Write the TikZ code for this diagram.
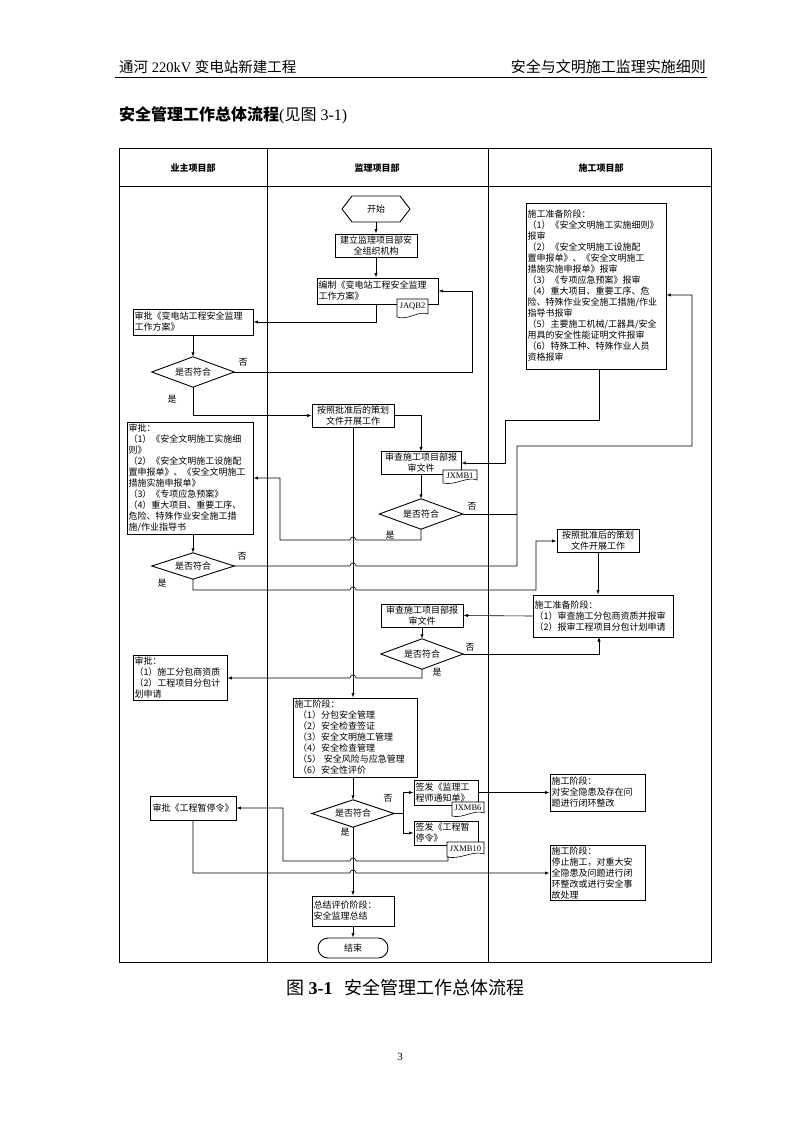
\documentclass[tikz,border=0pt]{standalone}
\usepackage{fontspec}
\setmainfont{Liberation Serif}
\newfontfamily\cjk{Noto Sans CJK SC}
\usetikzlibrary{arrows.meta,calc}
\newcommand\dg{\cjk\fontsize{9}{11}\selectfont}
\newcommand\docfont{\rmfamily\fontsize{8.5}{9}\selectfont}
\begin{document}
\begin{tikzpicture}[x=1pt,y=-1pt,
  frame/.style={line width=0.9pt},
  box/.style={draw, line width=0.9pt, fill=white, font=\dg, inner sep=1.5pt, align=center},
  lbox/.style={box, align=left},
  conn/.style={line width=0.6pt},
  arr/.style={line width=0.6pt, -{Latex[length=4.5pt,width=3.2pt]}},
  lbl/.style={font=\dg, inner sep=0pt},
  dnode/.style={font=\dg, inner sep=0pt},
  dshape/.style={line width=0.9pt, fill=white},
  docs/.style={line width=0.6pt, fill=white},
  doclbl/.style={font=\docfont, inner sep=0pt},
  lanehead/.style={font=\cjk\bfseries\fontsize{9}{11}\selectfont, inner sep=0pt}]
\useasboundingbox (0,0) rectangle (800,1132);
\fill[white] (0,0) rectangle (800,1132);

% page header
\node[anchor=west, inner sep=0pt] (hl) at (119,67) {\fontsize{14.5}{17}\selectfont\cjk 通河\rmfamily\ 220kV \cjk 变电站新建工程};
\node[anchor=east, inner sep=0pt] (hr) at (706,67) {\fontsize{15}{17}\selectfont\cjk 安全与文明施工监理实施细则};
\draw[line width=1pt] (115,77) -- (707,77);
\node[anchor=west, inner sep=0pt] (title) at (119,115) {\fontsize{16}{18}\selectfont\cjk\bfseries 安全管理工作总体流程\mdseries\rmfamily(\cjk 见图\rmfamily\ 3-1)};

% frame
\draw[frame] (119,148) rectangle (711,962);
\draw[frame] (119,186) -- (711,186);
\draw[frame] (267,148) -- (267,962);
\draw[frame] (488,148) -- (488,962);
\node[lanehead] (h1) at (193,168) {业主项目部};
\node[lanehead] (h2) at (377,168) {监理项目部};
\node[lanehead] (h3) at (601,168) {施工项目部};

% start
\draw[dshape] (342,209) -- (352,196) -- (400,196) -- (410,209) -- (400,222) -- (352,222) -- cycle;
\node[dnode, minimum width=68pt, minimum height=26pt] (start) at (376,209) {开始};

% boxes
\node[box, minimum width=82pt, minimum height=23pt] (b1) at (376,245.5) {建立监理项目部安\\全组织机构};
\node[lbox, text width=118pt, minimum height=26pt] (b2) at (377.5,291) {编制《变电站工程安全监理\\工作方案》};
\node[lbox, text width=117pt, minimum height=26pt] (a1) at (193,322) {审批《变电站工程安全监理\\工作方案》};
\node[box, minimum width=82pt, minimum height=23pt] (b3) at (353,415.5) {按照批准后的策划\\文件开展工作};
\node[box, minimum width=80pt, minimum height=22pt] (b4) at (421,463) {审查施工项目部报\\审文件};
\node[lbox, text width=123pt, minimum height=112pt] (a2) at (190,478) {审批：\\（1）《安全文明施工实施细\\则》\\（2）《安全文明施工设施配\\置申报单》、《安全文明施工\\措施实施申报单》\\（3）《专项应急预案》\\（4）重大项目、重要工序、\\危险、特殊作业安全施工措\\施/作业指导书};
\node[lbox, text width=137pt, minimum height=166pt] (c1) at (596,286) {施工准备阶段：\\（1）《安全文明施工实施细则》\\报审\\（2）《安全文明施工设施配\\置申报单》、《安全文明施工\\措施实施申报单》报审\\（3）《专项应急预案》报审\\（4）重大项目、重要工序、危\\险、特殊作业安全施工措施/作业\\指导书报审\\（5）主要施工机械/工器具/安全\\用具的安全性能证明文件报审\\（6）特殊工种、特殊作业人员\\资格报审};
\node[box, minimum width=82pt, minimum height=22pt] (c2) at (598,541) {按照批准后的策划\\文件开展工作};
\node[lbox, text width=137pt, minimum height=42pt] (c3) at (603,616) {施工准备阶段：\\（1）审查施工分包商资质并报审\\（2）报审工程项目分包计划申请};
\node[box, minimum width=82pt, minimum height=23pt] (b5) at (422,615.5) {审查施工项目部报\\审文件};
\node[lbox, text width=91pt, minimum height=44pt] (a3) at (180,678) {审批：\\（1）施工分包商资质\\（2）工程项目分包计\\划申请};
\node[lbox, text width=121pt, minimum height=79pt] (b6) at (355,737.5) {施工阶段：\\\hspace*{0.4em}（1）分包安全管理\\\hspace*{0.4em}（2）安全检查签证\\\hspace*{0.4em}（3）安全文明施工管理\\\hspace*{0.4em}（4）安全检查管理\\\hspace*{0.4em}（5）\hspace{0.3em}安全风险与应急管理\\\hspace*{0.4em}（6）安全性评价};
\node[lbox, text width=61pt, minimum height=25pt] (b7) at (446,792.5) {签发《监理工\\程师通知单》};
\node[lbox, text width=61pt, minimum height=24pt] (b8) at (446,833) {签发《工程暂\\停令》};
\node[lbox, text width=92pt, minimum height=37pt] (c4) at (597.5,792.5) {施工阶段：\\对安全隐患及存在问\\题进行闭环整改};
\node[lbox, text width=92pt, minimum height=52pt] (c5) at (597.5,873) {施工阶段：\\停止施工，对重大安\\全隐患及问题进行闭\\环整改或进行安全事\\故处理};
\node[box, minimum width=86pt, minimum height=24pt] (a4) at (193,808) {审批《工程暂停令》};
\node[lbox, text width=79pt, minimum height=30pt] (b9) at (353,911) {总结评价阶段：\\安全监理总结};
\node[box, rounded corners=10pt, minimum width=70pt, minimum height=20pt] (e) at (353,948) {结束};

% diamonds
\node[dnode, minimum width=82pt, minimum height=30pt] (d1) at (193,372) {};
\node[dnode, minimum width=83pt, minimum height=30pt] (d2) at (421,514) {};
\node[dnode, minimum width=82pt, minimum height=26pt] (d3) at (193,566) {};
\node[dnode, minimum width=82pt, minimum height=30pt] (d4) at (422,654) {};
\node[dnode, minimum width=82pt, minimum height=27pt] (d5) at (353,813.5) {};
\foreach \d in {d1,d2,d3,d4,d5}{
  \draw[dshape] (\d.north) -- (\d.east) -- (\d.south) -- (\d.west) -- cycle;
  \node[dnode] at (\d.center) {是否符合};
}

% documents
\draw[docs] (397,299) -- (428,299) -- (428,314) .. controls (419,310) and (408,321) .. (397,317) -- cycle;
\node[doclbl] (k1) at (412.5,306.5) {JAQB2};
\draw[docs] (443,470) -- (477,470) -- (477,480) .. controls (467,476) and (455,486) .. (443,483) -- cycle;
\node[doclbl] (k2) at (460,476) {JXMB1};
\draw[docs] (452,802) -- (484,802) -- (484,813) .. controls (474,809) and (463,819) .. (452,816) -- cycle;
\node[doclbl] (k3) at (468,808) {JXMB6};
\draw[docs] (447,842) -- (484,842) -- (484,854) .. controls (473,850) and (460,860) .. (447,857) -- cycle;
\node[doclbl] (k4) at (465.5,848.5) {JXMB10};

% connectors
\draw[arr] (start.south) -- (b1.north);
\draw[arr] (b1.south) -- (b1.south |- b2.north);
\draw[arr] (b2.south -| b1.south) -- (376,322) -- (a1.east);
\draw[arr] (a1.south) -- (d1.north);
\draw[arr] (d1.east) -- (472,372) -- (472,291) -- (b2.east);
\draw[arr] (d1.south) -- (193,415.5) -- (b3.west);
\draw[arr] (b3.east) -- (421,415.5) -- (b4.north);
\draw[arr] (b3.south) -- (b3.south |- b6.north);
\draw[arr] (c1.south -| 599,0) -- (599,420) -- (505,420) -- (505,463) -- (b4.east);
\draw[arr] (b4.south) -- (d2.north);
\draw[conn] (d2.east) -- (517,514);
\draw[arr] (d2.south) -- (421,540) -- (356,540) arc[start angle=0,end angle=-180,radius=3] -- (280,540) -- (280,478) -- (a2.east);
\draw[arr] (193,534) -- (d3.north);
\draw[arr] (d3.east) -- (350,566) arc[start angle=180,end angle=360,radius=3] -- (517,566) -- (517,446) -- (692,446) -- (692,295) -- (c1.east |- 692,295);
\draw[arr] (d3.south) -- (193,590) -- (350,590) arc[start angle=180,end angle=360,radius=3] -- (536,590) -- (536,541) -- (c2.west);
\draw[arr] (c2.south) -- (c2.south |- c3.north);
\draw[arr] (c3.west) -- (b5.east);
\draw[arr] (b5.south) -- (d4.north);
\draw[arr] (d4.east) -- (599,654) -- (599,637);
\draw[arr] (d4.south) -- (422,678) -- (356,678) arc[start angle=0,end angle=-180,radius=3] -- (a3.east);
\draw[arr] (d5.north |- b6.south) -- (d5.north);
\draw[conn] (d5.east) -- (403,813.5);
\draw[arr] (403,813.5) -- (403,792.5) -- (b7.west);
\draw[arr] (403,813.5) -- (403,833) -- (b8.west);
\draw[arr] (b7.east) -- (c4.west);
\draw[arr] (448,856) -- (448,861) -- (356,861) arc[start angle=0,end angle=-180,radius=3] -- (283,861) -- (283,808) -- (a4.east);
\draw[arr] (a4.south) -- (193,873) -- (350,873) arc[start angle=180,end angle=360,radius=3] -- (c5.west);
\draw[arr] (d5.south) -- (b9.north);
\draw[arr] (b9.south) -- (e.north);

% yes / no labels
\node[lbl] (n1) at (243,362) {否};
\node[lbl] (y1) at (172,399) {是};
\node[lbl] (n2) at (472,506) {否};
\node[lbl] (y2) at (390,535) {是};
\node[lbl] (n3) at (242,556) {否};
\node[lbl] (y3) at (162,583) {是};
\node[lbl] (n4) at (470,647) {否};
\node[lbl] (y4) at (437,672) {是};
\node[lbl] (n5) at (388,798) {否};
\node[lbl] (y5) at (345,832) {是};

% caption and page number
\node[anchor=west, inner sep=0pt] (cap) at (286,988) {\fontsize{18}{20}\selectfont\cjk 图\rmfamily\ \textbf{3-1}\hspace{12pt}\cjk 安全管理工作总体流程};
\node[inner sep=0pt] (pg) at (400,1057) {\fontsize{11}{13}\selectfont 3};
\end{tikzpicture}
\end{document}
